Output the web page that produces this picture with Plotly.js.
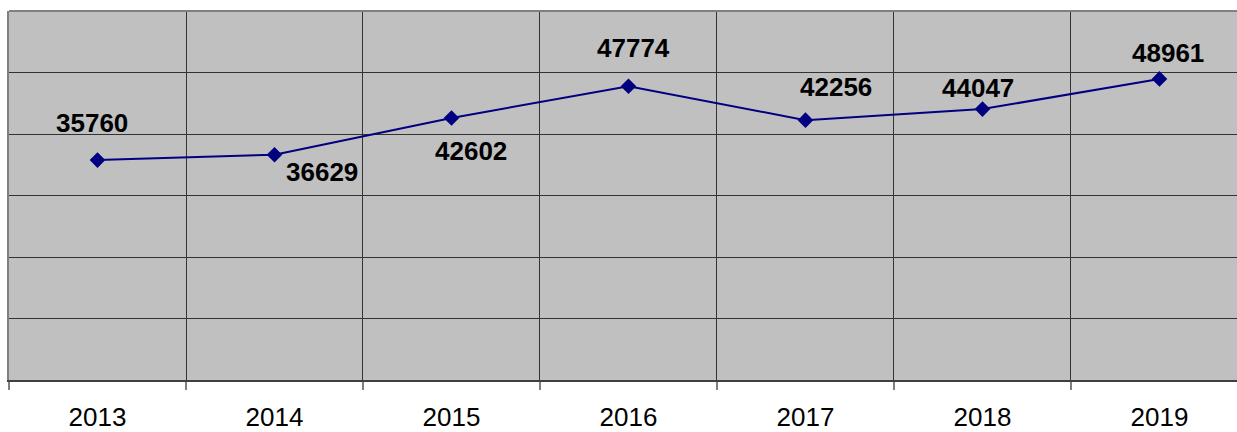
<!DOCTYPE html>
<html>
<head>
<meta charset="utf-8">
<script src="https://cdn.plot.ly/plotly-3.0.1.min.js"></script>
<style>html,body{margin:0;padding:0;background:#fff;}#chart{width:1237px;height:432px;}</style>
</head>
<body>
<div id="chart"></div>
<script>
const years = ["2013", "2014", "2015", "2016", "2017", "2018", "2019"];
const values = [35760, 36629, 42602, 47774, 42256, 44047, 48961];
const labelShiftX = [-6, 48, 20, 5, 31, -4, 9];
const labelShiftY = [37, -17, -33, 38, 33, 21, 26];

const trace = {
  x: years,
  y: values,
  type: "scatter",
  mode: "lines+markers",
  line: {color: "#000080", width: 2},
  marker: {symbol: "diamond", size: 12, color: "#000080"},
  hoverinfo: "x+y"
};

const annotations = years.map((yr, i) => ({
  x: i, y: values[i], xref: "x", yref: "y",
  text: "<b>" + values[i] + "</b>",
  showarrow: false,
  xshift: labelShiftX[i], yshift: labelShiftY[i],
  font: {family: "Liberation Sans, Arial, sans-serif", size: 26, color: "#000"}
}));

const layout = {
  width: 1237, height: 432,
  margin: {l: 9, r: 0, t: 11, b: 52},
  paper_bgcolor: "#ffffff",
  plot_bgcolor: "#c0c0c0",
  showlegend: false,
  font: {family: "Liberation Sans, Arial, sans-serif", size: 26, color: "#000"},
  xaxis: {
    type: "category",
    range: [-0.5, 6.438],
    tickson: "boundaries",
    showgrid: true, gridcolor: "#333333", gridwidth: 1,
    ticks: "outside", ticklen: 8, tickwidth: 2, tickcolor: "#808080",
    showline: true, linecolor: "#404040", linewidth: 2,
    tickfont: {size: 26, family: "Liberation Sans, Arial, sans-serif"},
    ticklabelstandoff: 13,
    zeroline: false, fixedrange: true
  },
  yaxis: {
    range: [0, 60000], dtick: 10000,
    showgrid: true, gridcolor: "#333333", gridwidth: 1,
    showticklabels: false, ticks: "",
    showline: true, linecolor: "#808080", linewidth: 2,
    zeroline: false, fixedrange: true
  },
  shapes: [
    {type: "line", xref: "paper", yref: "paper", x0: 0, x1: 1, y0: 1, y1: 1,
     line: {color: "#808080", width: 2}}
  ],
  annotations: annotations
};

Plotly.newPlot("chart", [trace], layout, {displayModeBar: false, staticPlot: true});
</script>
</body>
</html>
